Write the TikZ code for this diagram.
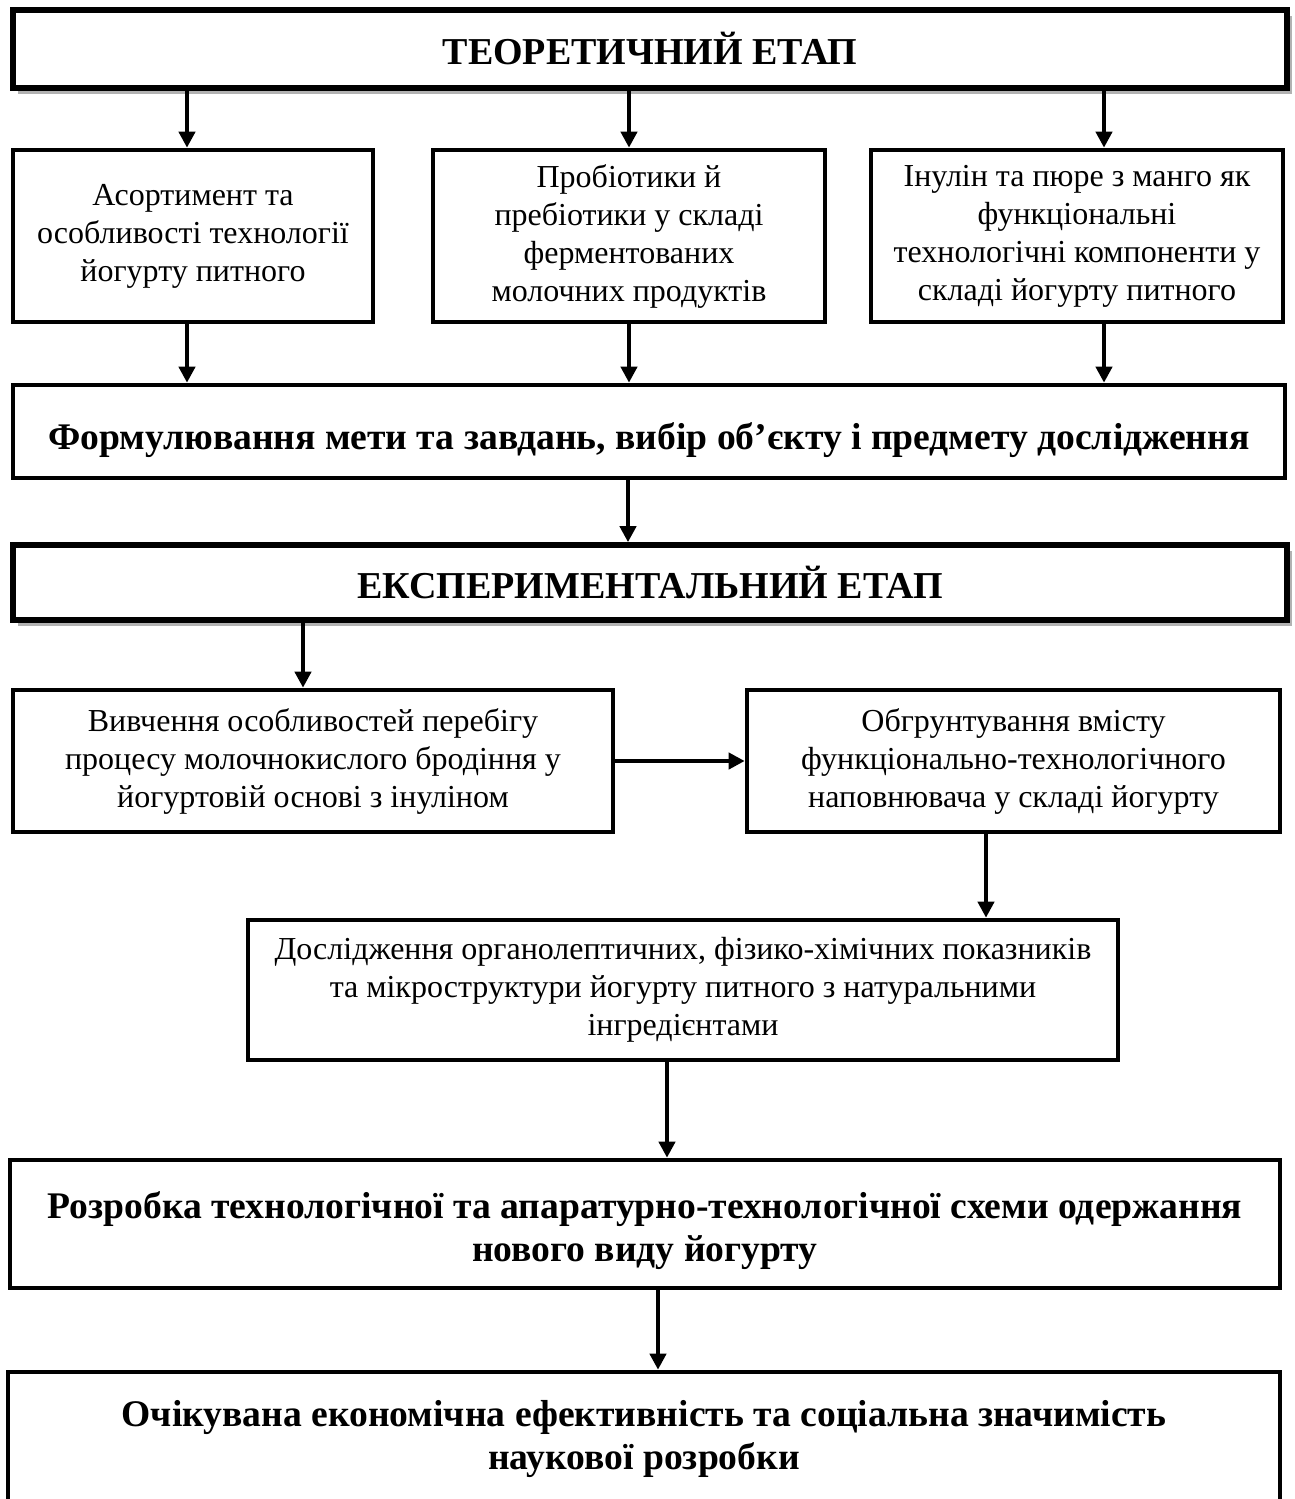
\documentclass[tikz,border=0pt]{standalone}
\usepackage{fontspec}
\setmainfont{Liberation Serif}
\usetikzlibrary{positioning,arrows.meta,shadows}
\tikzstyle{etape}=[rectangle,draw,line width=2.8pt,fill=white,inner sep=0pt,align=center,font=\fontsize{19}{22}\selectfont\bfseries,drop shadow={shadow xshift=2.5pt,shadow yshift=-3pt,fill=black,opacity=0.3}]
\tikzstyle{boite}=[rectangle,draw,line width=2.3pt,fill=white,inner sep=0pt,align=center,font=\fontsize{16}{19}\selectfont]
\tikzstyle{gras}=[boite,font=\fontsize{18.8}{21.5}\selectfont\bfseries]
\tikzstyle{fleche}=[-{Triangle[length=8pt,width=8pt]},line width=2pt]

\begin{document}
\begin{tikzpicture}[x=0.5pt,y=-0.5pt]
\useasboundingbox (0,0) rectangle (1295,1499);

\node[etape,minimum width=637pt,minimum height=39pt] (T0) at (650,49) {ТЕОРЕТИЧНИЙ ЕТАП};
\node[boite,minimum width=180pt,minimum height=86pt] (B11) at (193,236) {Асортимент та\\особливості технології\\йогурту питного};
\node[boite,minimum width=196pt,minimum height=86pt] (B12) at (629,236) {Пробіотики й\\пребіотики у складі\\ферментованих\\молочних продуктів};
\node[boite,minimum width=206pt,minimum height=86pt] (B13) at (1077,236) {Інулін та пюре з манго як\\функціональні\\технологічні компоненти у\\складі йогурту питного};
\node[gras,minimum width=636pt,minimum height=46.5pt,text height=17.5pt,text depth=0pt] (F2) at (649,431.5) {Формулювання мети та завдань, вибір об’єкту і предмету дослідження};
\node[etape,minimum width=637pt,minimum height=37.5pt] (E3) at (650,582.5) {ЕКСПЕРИМЕНТАЛЬНИЙ ЕТАП};
\node[boite,minimum width=300pt,minimum height=71pt] (B41) at (313,761) {Вивчення особливостей перебігу\\процесу молочнокислого бродіння у\\йогуртовій основі з інуліном};
\node[boite,minimum width=266.5pt,minimum height=71pt] (B42) at (1013.5,761) {Обгрунтування вмісту\\функціонально-технологічного\\наповнювача у складі йогурту};
\node[boite,minimum width=435pt,minimum height=70pt] (D5) at (683,990) {Дослідження органолептичних, фізико-хімічних показників\\та мікроструктури йогурту питного з натуральними\\інгредієнтами};
\node[gras,minimum width=635pt,minimum height=64pt,text height=37.5pt,text depth=0pt] (R6) at (645,1224) {Розробка технологічної та апаратурно-технологічної схеми одержання\\нового виду йогурту};
\node[gras,minimum width=636pt,minimum height=67pt] (O7) at (644,1439) {Очікувана економічна ефективність та соціальна значимість\\наукової розробки};

\draw[fleche] ([xshift=-3pt]B11.north |- T0.south) -- ([xshift=-3pt]B11.north);
\draw[fleche] (B12.north |- T0.south) -- (B12.north);
\draw[fleche] ([xshift=13.5pt]B13.north |- T0.south) -- ([xshift=13.5pt]B13.north);
\draw[fleche] ([xshift=-3pt]B11.south) -- ([xshift=-3pt]B11.south |- F2.north);
\draw[fleche] (B12.south) -- (B12.south |- F2.north);
\draw[fleche] ([xshift=13.5pt]B13.south) -- ([xshift=13.5pt]B13.south |- F2.north);
\draw[fleche] ([xshift=-10.5pt]F2.south) -- ([xshift=-10.5pt]F2.south |- E3.north);
\draw[fleche] ([xshift=-5pt]B41.north |- E3.south) -- ([xshift=-5pt]B41.north);
\draw[fleche] (B41.east) -- (B42.west);
\draw[fleche] ([xshift=-13.75pt]B42.south) -- ([xshift=-13.75pt]B42.south |- D5.north);
\draw[fleche] ([xshift=-8pt]D5.south) -- ([xshift=-8pt]D5.south |- R6.north);
\draw[fleche] ([xshift=6.5pt]R6.south) -- ([xshift=6.5pt]R6.south |- O7.north);

\end{tikzpicture}
\end{document}
